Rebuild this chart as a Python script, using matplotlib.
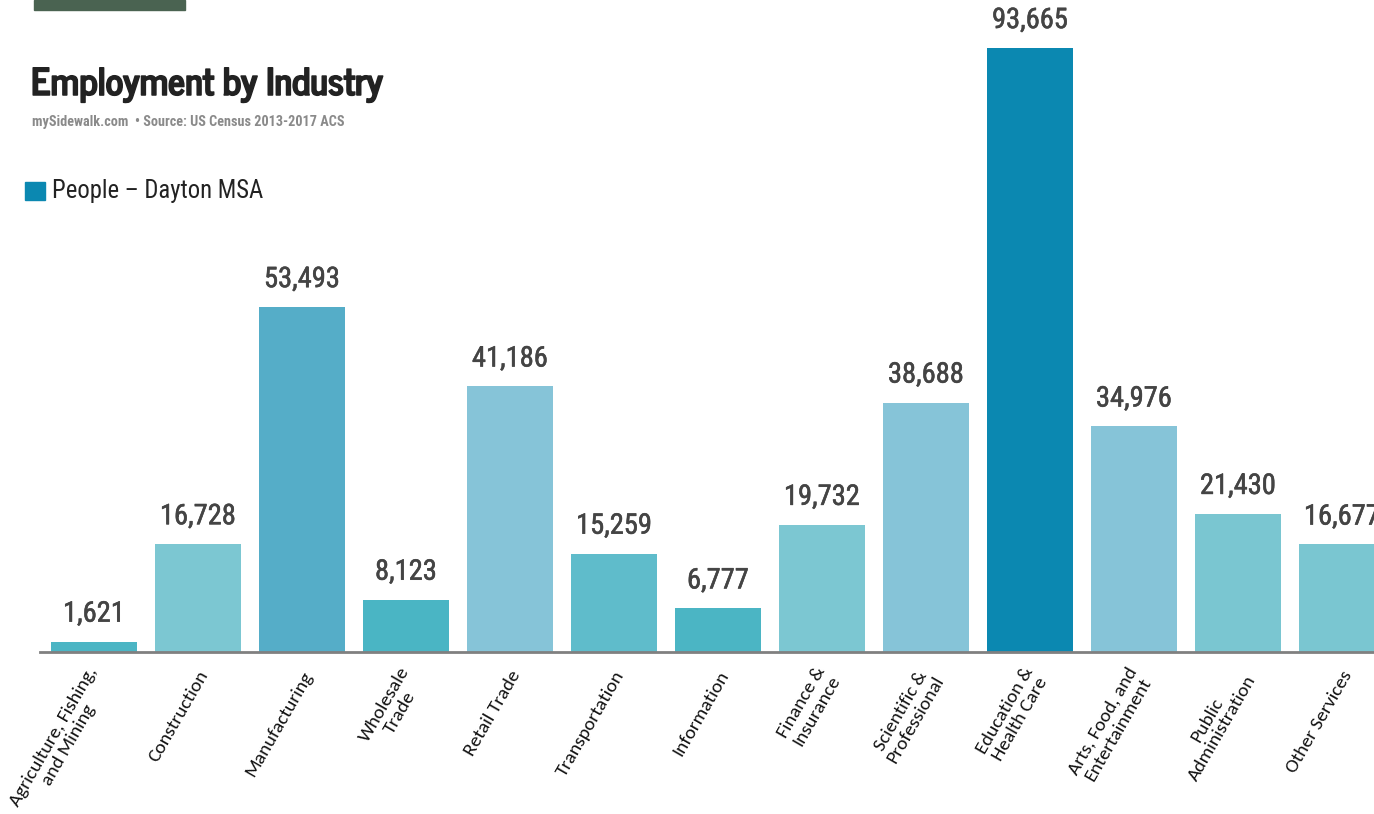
import matplotlib
matplotlib.use("Agg")
import matplotlib.pyplot as plt
from matplotlib.patches import Rectangle
import matplotlib.patheffects as pe
import matplotlib.transforms as mtrans

categories = ["Agriculture, Fishing,\nand Mining", "Construction", "Manufacturing",
              "Wholesale\nTrade", "Retail Trade", "Transportation", "Information",
              "Finance &\nInsurance", "Scientific &\nProfessional", "Education &\nHealth Care",
              "Arts, Food, and\nEntertainment", "Public\nAdministration", "Other Services"]
values = [1621, 16728, 53493, 8123, 41186, 15259, 6777, 19732, 38688, 93665, 34976, 21430, 16677]
colors = ["#4bb5c4", "#7cc7d2", "#55adc8", "#4ab5c4", "#86c4d8", "#5fbccb", "#4bb5c4",
          "#7cc7d2", "#86c4d8", "#0b88b1", "#86c4d8", "#7ac6d1", "#7ac6d1"]

TITLE_F = ["News Cycle", "Roboto Condensed", "DejaVu Sans"]
NUM_F = ["Roboto Condensed", "DejaVu Sans"]
TICK_F = ["Carlito", "Open Sans Condensed", "Roboto Condensed", "DejaVu Sans"]

W, H = 1374, 814
fig = plt.figure(figsize=(W / 100, H / 100), dpi=100)

ytop = 100000
ax_h = 604 * ytop / 93665
ax = fig.add_axes([40 / W, 162 / H, (W - 40) / W, ax_h / H])
x = list(range(len(values)))
ax.bar(x, values, width=86 / 104, color=colors)
ax.set_xlim(-54 / 104, (W - 94) / 104)
ax.set_ylim(0, ytop)
for s in ["top", "right", "left"]:
    ax.spines[s].set_visible(False)
ax.spines["bottom"].set_color("#808080")
ax.spines["bottom"].set_linewidth(2)
ax.set_yticks([])
ax.set_xticks(x)
ax.set_xticklabels(categories, rotation=60, ha="right", rotation_mode="anchor",
                   fontsize=14, family=TICK_F, multialignment="center", color="#111111",
                   linespacing=1.1)
ax.tick_params(axis="x", length=0, pad=14)
offset = mtrans.ScaledTranslation(5 / 100, 0, fig.dpi_scale_trans)
for lab in ax.get_xticklabels():
    lab.set_va("center_baseline")
    lab.set_transform(lab.get_transform() + offset)
for xi, v in zip(x, values):
    ax.annotate(f"{v:,}", (xi, v), xytext=(0, 10), textcoords="offset points",
                ha="center", va="bottom", fontsize=20.5, color="#444444", family=NUM_F,
                annotation_clip=False,
                path_effects=[pe.withStroke(linewidth=0.4, foreground="#444444")])

fig.patches.append(Rectangle((34 / W, 1 - 10 / H), 151 / W, 10 / H, transform=fig.transFigure,
                             color="#4a6351"))
fig.text(31 / W, 1 - 85 / H, "Employment by Industry", fontsize=26.5, fontweight="bold",
         family=TITLE_F, color="#222222", va="center", ha="left",
         path_effects=[pe.withStroke(linewidth=1.1, foreground="#222222")])
fig.text(32 / W, 1 - 122 / H, "mySidewalk.com  \u2022 Source: US Census 2013-2017 ACS",
         fontsize=10.3, fontweight="bold", family=NUM_F, color="#8a8a8a", va="center", ha="left")
fig.patches.append(Rectangle((25 / W, 1 - 200 / H), 20 / W, 18 / H, transform=fig.transFigure,
                             color="#0b88b1"))
fig.text(52 / W, 1 - 191 / H, "People \u2013 Dayton MSA", fontsize=17.7, family=NUM_F,
         color="#222222", va="center", ha="left")

fig.savefig("out.png", dpi=100)
